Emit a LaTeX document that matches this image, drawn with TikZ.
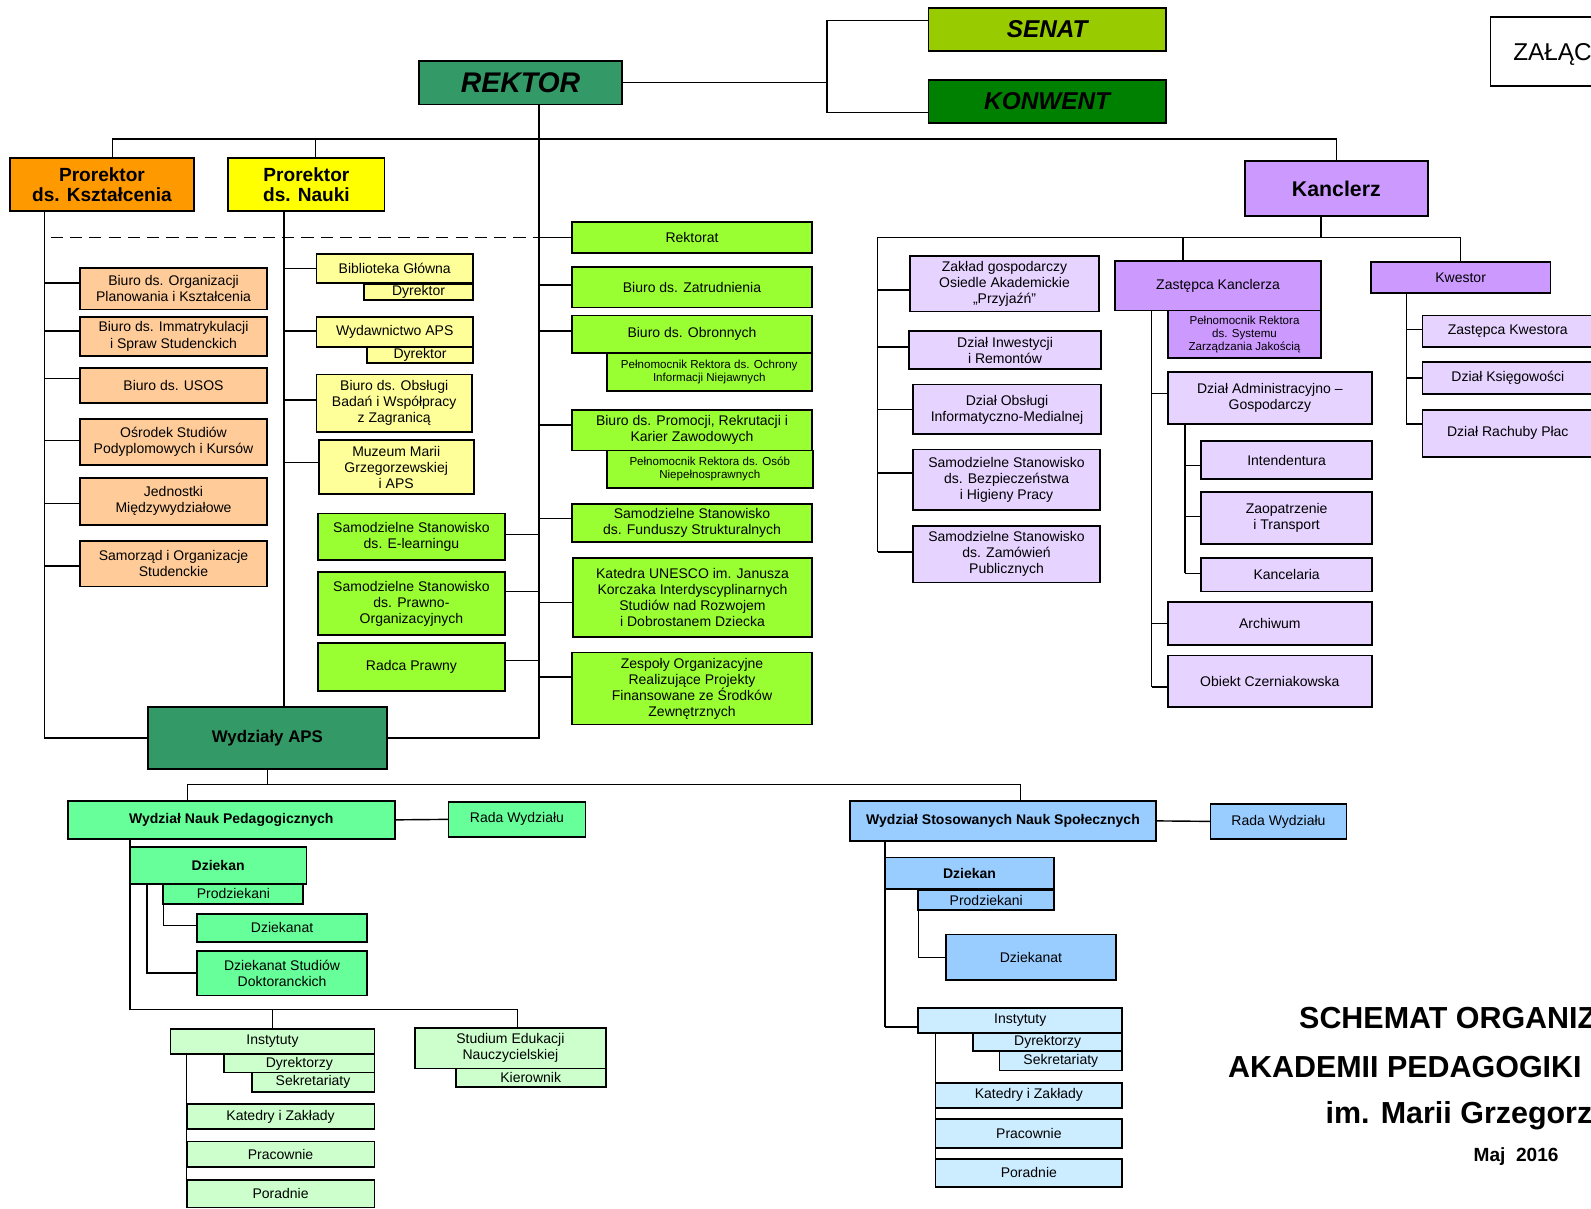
\documentclass[tikz,border=0pt]{standalone}
\usepackage{fontspec}
\setmainfont{Liberation Sans}
\definecolor{cRek}{HTML}{339966}
\definecolor{cSen}{HTML}{99CC00}
\definecolor{cKon}{HTML}{008000}
\definecolor{cOra}{HTML}{FF9900}
\definecolor{cYel}{HTML}{FFFF00}
\definecolor{cPur}{HTML}{CC99FF}
\definecolor{cLav}{HTML}{E6D3FF}
\definecolor{cLOr}{HTML}{FFCC99}
\definecolor{cLYe}{HTML}{FFFF99}
\definecolor{cGre}{HTML}{99FF33}
\definecolor{cMin}{HTML}{66FF99}
\definecolor{cLGr}{HTML}{CCFFCC}
\definecolor{cBlu}{HTML}{99CCFF}
\definecolor{cLBl}{HTML}{CCECFF}
\newcommand\fs{\fontsize{6.9pt}{7.9pt}\selectfont}
\newcommand\fsm{\fontsize{5.7pt}{6.5pt}\selectfont}
\tikzset{
  box/.style={draw=black, line width=0.9pt, inner sep=0pt, outer sep=0pt, align=center, font=\fs},
  conn/.style={draw=black, line width=0.7pt},
  dsh/.style={draw=black, line width=0.8pt, dash pattern=on 6pt off 3.5pt},
  sm/.style={font=\fsm},
  bf/.style={font=\fs\bfseries},
  bigf/.style={font=\fontsize{12pt}{14pt}\selectfont\bfseries\itshape},
  hugef/.style={font=\fontsize{14pt}{16pt}\selectfont\bfseries\itshape},
  prof/.style={font=\fontsize{9.4pt}{10pt}\selectfont\bfseries},
  kanf/.style={font=\fontsize{10.5pt}{12pt}\selectfont\bfseries},
  waf/.style={font=\fontsize{8.3pt}{10pt}\selectfont\bfseries},
  titlef/.style={inner sep=0pt, anchor=base west, font=\fontsize{15pt}{18pt}\selectfont\bfseries},
}
\newcommand\bx[7]{\node[box,#2,minimum width={(#5-#3)*0.5pt},minimum height={(#6-#4)*0.5pt}] (#1) at ({(#3+#5)/2},{(#4+#6)/2}) {#7};}
\newcommand\stub[4]{\path ([yshift=#3]#2) coordinate (#4); \draw[conn] (#4) -- (#1 |- #4);}
\begin{document}
\begin{tikzpicture}[x=0.5pt,y=-0.5pt]
\useasboundingbox (0,0) rectangle (1568,1191);
\clip (0,0) rectangle (1568,1191);

% ---------- top level ----------
\bx{senat}{fill=cSen,bigf}{915}{8}{1149}{50}{SENAT}
\bx{konwent}{fill=cKon,bigf}{915}{79}{1149}{121}{KONWENT}
\bx{rektor}{fill=cRek,hugef}{413}{60}{613}{103}{REKTOR}
\bx{zal}{fill=white}{1469}{17}{1640}{85}{}
\node[inner sep=0pt, anchor=base west, font=\fontsize{12pt}{14pt}\selectfont] (zalt) at (1491,59.5) {ZAŁĄCZNIK};

\bx{pk}{fill=cOra,prof}{10}{156}{191}{208}{Prorektor\\ds. Kształcenia}
\bx{pn}{fill=cYel,prof}{225}{156}{379}{208}{Prorektor\\ds. Nauki}
\bx{kan}{fill=cPur,kanf}{1227}{159}{1407}{213}{Kanclerz}

\coordinate (SK) at (815,0);
\path ([yshift=4.5pt]senat.west) coordinate (sw);
\path ([yshift=-5.5pt]konwent.west) coordinate (kw0);
\draw[conn] (sw) -- (SK |- sw) -- (SK |- kw0) -- (kw0);
\draw[conn] (rektor.east) -- (SK |- rektor.east);

\coordinate (HB) at (0,137);
\path ([xshift=5.25pt]pk.north) coordinate (pkt);
\path ([xshift=4.5pt]pn.north) coordinate (pnt);
\draw[conn] (pkt) -- (pkt |- HB) -- (kan.north |- HB) -- (kan.north);
\draw[conn] (pnt) -- (pnt |- HB);

% ---------- Wydzialy APS and trunks ----------
\bx{wa}{fill=cRek,waf}{146}{697}{381}{758}{Wydziały APS}
\path ([xshift=9pt]rektor.south) coordinate (RT);
\coordinate (LT) at (44,0);
\coordinate (MT) at (280,0);
\draw[conn] (RT) -- (RT |- wa.east) -- (wa.east);
\draw[conn] (LT |- pk.south) -- (LT |- wa.west) -- (wa.west);
\draw[conn] (MT |- pn.south) -- (MT |- wa.north);

% ---------- left (orange) ----------
\bx{o1}{fill=cLOr}{79}{264}{263}{305}{Biuro ds. Organizacji\\Planowania i Kształcenia}
\bx{o2}{fill=cLOr}{79}{312}{263}{351}{Biuro ds. Immatrykulacji\\i Spraw Studenckich}
\bx{o3}{fill=cLOr}{79}{363}{263}{397}{Biuro ds. USOS}
\bx{o4}{fill=cLOr}{79}{413}{263}{458}{Ośrodek Studiów\\Podyplomowych i Kursów}
\bx{o5}{fill=cLOr}{79}{471}{263}{517}{Jednostki\\Międzywydziałowe}
\bx{o6}{fill=cLOr}{79}{533}{263}{578}{Samorząd i Organizacje\\Studenckie}
\stub{LT}{o1.west}{2.75pt}{s-o1}
\stub{LT}{o2.west}{2.75pt}{s-o2}
\stub{LT}{o3.west}{3.5pt}{s-o3}
\stub{LT}{o4.west}{0.75pt}{s-o4}
\stub{LT}{o5.west}{-1pt}{s-o5}
\stub{LT}{o6.west}{-1.25pt}{s-o6}

% ---------- middle (yellow) ----------
\bx{y1}{fill=cLYe}{312}{250}{466}{279}{Biblioteka Główna}
\bx{y1d}{fill=cLYe}{359}{280}{466}{296}{Dyrektor}
\bx{y2}{fill=cLYe}{312}{312}{466}{342}{Wydawnictwo APS}
\bx{y2d}{fill=cLYe}{362}{342}{466}{358}{Dyrektor}
\bx{y3}{fill=cLYe}{312}{369}{465}{426}{Biuro ds. Obsługi\\Badań i Współpracy\\z Zagranicą}
\bx{y4}{fill=cLYe}{314}{434}{467}{487}{Muzeum Marii\\Grzegorzewskiej\\i APS}
\stub{MT}{y1.west}{0pt}{s-y1}
\stub{MT}{y2.west}{0.5pt}{s-y2}
\stub{MT}{y3.west}{1.75pt}{s-y3}
\stub{MT}{y4.west}{2.25pt}{s-y4}

% ---------- green left of rector trunk ----------
\bx{g1}{fill=cGre}{313}{506}{498}{552}{Samodzielne Stanowisko\\ds. E-learningu}
\bx{g2}{fill=cGre}{313}{564}{498}{626}{Samodzielne Stanowisko\\ds. Prawno-\\Organizacyjnych}
\bx{g3}{fill=cGre}{313}{634}{498}{681}{Radca Prawny}
\stub{RT}{g1.east}{1pt}{s-g1}
\stub{RT}{g2.east}{6pt}{s-g2}
\stub{RT}{g3.east}{3.25pt}{s-g3}

% ---------- green right of rector trunk ----------
\bx{r1}{fill=cGre}{564}{219}{800}{249}{Rektorat}
\bx{r2}{fill=cGre}{564}{263}{800}{303}{Biuro ds. Zatrudnienia}
\bx{r3}{fill=cGre}{564}{311}{800}{348}{Biuro ds. Obronnych}
\bx{r3s}{fill=cGre,sm}{598}{348}{800}{385}{Pełnomocnik Rektora ds. Ochrony\\Informacji Niejawnych}
\bx{r4}{fill=cGre}{564}{404}{800}{444}{Biuro ds. Promocji, Rekrutacji i\\Karier Zawodowych}
\bx{r4s}{fill=cGre,sm}{598}{444}{801}{481}{Pełnomocnik Rektora ds. Osób\\Niepełnosprawnych}
\bx{r5}{fill=cGre}{564}{497}{800}{534}{Samodzielne Stanowisko\\ds. Funduszy Strukturalnych}
\bx{r6}{fill=cGre}{565}{550}{800}{628}{Katedra UNESCO im. Janusza\\Korczaka Interdyscyplinarnych\\Studiów nad Rozwojem\\i Dobrostanem Dziecka}
\bx{r7}{fill=cGre}{564}{643}{800}{714}{Zespoły Organizacyjne\\Realizujące Projekty\\Finansowane ze Środków\\Zewnętrznych}
\stub{RT}{r1.west}{0pt}{s-r1}
\stub{RT}{r2.west}{1pt}{s-r2}
\stub{RT}{r3.west}{1.75pt}{s-r3}
\stub{RT}{r4.west}{2.5pt}{s-r4}
\stub{RT}{r5.west}{2.25pt}{s-r5}
\stub{RT}{r6.west}{-2.5pt}{s-r6}
\stub{RT}{r7.west}{5.75pt}{s-r7}
\coordinate (DS) at (50,0);
\draw[dsh] (DS |- s-r1) -- (s-r1 -| RT);

% ---------- Kanclerz ----------
\coordinate (KH) at (0,234);
\coordinate (KL) at (865,0);
\coordinate (ZT) at (1135,0);
\coordinate (ZD) at (1168,0);
\coordinate (QT) at (1386,0);
\bx{l1}{fill=cLav}{897}{252}{1083}{307}{Zakład gospodarczy\\Osiedle Akademickie\\„Przyjaźń”}
\bx{l2}{fill=cLav}{896}{326}{1085}{364}{Dział Inwestycji\\i Remontów}
\bx{l3}{fill=cLav}{900}{379}{1085}{428}{Dział Obsługi\\Informatyczno-Medialnej}
\bx{l4}{fill=cLav}{900}{443}{1084}{503}{Samodzielne Stanowisko\\ds. Bezpieczeństwa\\i Higieny Pracy}
\bx{l5}{fill=cLav}{900}{518}{1084}{574}{Samodzielne Stanowisko\\ds. Zamówień\\Publicznych}
\bx{zk}{fill=cPur}{1099}{257}{1302}{306}{Zastępca Kanclerza}
\bx{zks}{fill=cPur,sm}{1151}{306}{1302}{353}{Pełnomocnik Rektora\\ds. Systemu\\Zarządzania Jakością}
\bx{zd}{fill=cLav}{1151}{367}{1352}{418}{Dział Administracyjno –\\Gospodarczy}
\bx{zi}{fill=cLav}{1184}{435}{1352}{472}{Intendentura}
\bx{zz}{fill=cLav}{1184}{485}{1352}{536}{Zaopatrzenie\\i Transport}
\bx{zc}{fill=cLav}{1184}{550}{1352}{583}{Kancelaria}
\bx{za}{fill=cLav}{1151}{593}{1352}{636}{Archiwum}
\bx{zo}{fill=cLav}{1151}{646}{1352}{697}{Obiekt Czerniakowska}
\bx{kw}{fill=cPur}{1351}{258}{1528}{289}{Kwestor}
\bx{q1}{fill=cLav}{1402}{311}{1570}{342}{Zastępca Kwestora}
\bx{q2}{fill=cLav}{1402}{357}{1570}{388}{Dział Księgowości}
\bx{q3}{fill=cLav}{1402}{404}{1570}{450}{Dział Rachuby Płac}

\path ([xshift=-7.5pt]kan.south) coordinate (kb);
\path ([xshift=-17.25pt]zk.north) coordinate (zkt);
\draw[conn] (kb) -- (kb |- KH);
\draw[conn] (zkt) -- (zkt |- KH);
\stub{KL}{l1.west}{-3.25pt}{s-l1}
\stub{KL}{l2.west}{1.5pt}{s-l2}
\stub{KL}{l3.west}{0pt}{s-l3}
\stub{KL}{l4.west}{3.5pt}{s-l4}
\stub{KL}{l5.west}{1pt}{s-l5}
\draw[conn] (KL |- s-l5) -- (KL |- KH) -- (kw.north |- KH) -- (kw.north);
\stub{ZT}{zd.west}{2.25pt}{s-zd}
\stub{ZT}{za.west}{0pt}{s-za}
\stub{ZT}{zo.west}{-2.75pt}{s-zo}
\draw[conn] (ZT |- zk.south) -- (ZT |- s-zo);
\stub{ZD}{zi.west}{-2.75pt}{s-zi}
\stub{ZD}{zz.west}{0.75pt}{s-zz}
\stub{ZD}{zc.west}{0.75pt}{s-zc}
\draw[conn] (ZD |- zd.south) -- (ZD |- s-zc);
\stub{QT}{q1.west}{0.75pt}{s-q1}
\stub{QT}{q2.west}{0pt}{s-q2}
\stub{QT}{q3.west}{4.5pt}{s-q3}
\draw[conn] (QT |- kw.south) -- (QT |- s-q3);

% ---------- faculties ----------
\coordinate (BB) at (0,773);
\bx{wnp}{fill=cMin,bf}{67}{789}{389}{827}{Wydział Nauk Pedagogicznych}
\bx{wnpr}{fill=cMin}{442}{790}{577}{825}{Rada Wydziału}
\bx{ws}{fill=cBlu,bf}{838}{789}{1139}{829}{Wydział Stosowanych Nauk Społecznych}
\bx{wsr}{fill=cBlu}{1193}{792}{1327}{827}{Rada Wydziału}
\path ([xshift=-21.5pt]wnp.north) coordinate (wnpt);
\path ([xshift=8.75pt]ws.north) coordinate (wst);
\draw[conn] (wa.south) -- (wa.south |- BB);
\draw[conn] (wnpt) -- (wnpt |- BB) -- (wst |- BB) -- (wst);
\draw[conn] (wnp.east) -- (wnpr.west);
\draw[conn] (ws.east) -- (wsr.west);

% WNP
\bx{wnpd}{fill=cMin,bf}{128}{835}{302}{871}{Dziekan}
\bx{wnpp}{fill=cMin}{161}{871}{299}{891}{Prodziekani}
\bx{dk}{fill=cMin}{194}{901}{362}{928}{Dziekanat}
\bx{dsd}{fill=cMin}{194}{937}{362}{981}{Dziekanat Studiów\\Doktoranckich}
\bx{ins}{fill=cLGr}{168}{1014}{369}{1039}{Instytuty}
\bx{insd}{fill=cLGr}{221}{1039}{369}{1057}{Dyrektorzy}
\bx{inss}{fill=cLGr}{248}{1057}{369}{1076}{Sekretariaty}
\bx{kz}{fill=cLGr}{184}{1088}{369}{1113}{Katedry i Zakłady}
\bx{pr}{fill=cLGr}{184}{1125}{369}{1150}{Pracownie}
\bx{po}{fill=cLGr}{184}{1163}{369}{1190}{Poradnie}
\bx{sen}{fill=cLGr}{409}{1013}{597}{1053}{Studium Edukacji\\Nauczycielskiej}
\bx{senk}{fill=cLGr}{449}{1053}{597}{1071}{Kierownik}
\coordinate (A1) at (128,0);
\coordinate (A2) at (145,0);
\coordinate (A4) at (161,0);
\coordinate (A3) at (184,0);
\coordinate (BB2) at (0,995);
\path ([xshift=3.5pt]sen.north) coordinate (sent);
\draw[conn] (A1 |- wnp.south) -- (A1 |- BB2) -- (sent |- BB2) -- (sent);
\draw[conn] (ins.north) -- (ins.north |- BB2);
\draw[conn] (A2 |- wnpd.south) -- (A2 |- dsd.west) -- (dsd.west);
\stub{A4}{dk.west}{1.25pt}{s-dk}
\draw[conn] (A4 |- wnpp.south) -- (A4 |- s-dk);
\draw[conn] (A3 |- ins.south) -- (A3 |- po.west);

% WSNS
\bx{wsd}{fill=cBlu,bf}{872}{845}{1039}{876}{Dziekan}
\bx{wsp}{fill=cBlu}{905}{877}{1039}{897}{Prodziekani}
\bx{dk2}{fill=cBlu}{932}{921}{1100}{966}{Dziekanat}
\bx{ins2}{fill=cLBl}{905}{993}{1106}{1018}{Instytuty}
\bx{ins2d}{fill=cLBl}{959}{1018}{1106}{1036}{Dyrektorzy}
\bx{ins2s}{fill=cLBl}{985}{1036}{1106}{1055}{Sekretariaty}
\bx{kz2}{fill=cLBl}{922}{1067}{1106}{1092}{Katedry i Zakłady}
\bx{pr2}{fill=cLBl}{922}{1103}{1106}{1131}{Pracownie}
\bx{po2}{fill=cLBl}{922}{1142}{1106}{1170}{Poradnie}
\coordinate (B1) at (872,0);
\coordinate (B2) at (905,0);
\coordinate (B3) at (922,0);
\stub{B1}{ins2.west}{-3.25pt}{s-ins2}
\draw[conn] (B1 |- ws.south) -- (B1 |- s-ins2);
\stub{B2}{dk2.west}{0pt}{s-dk2}
\draw[conn] (B2 |- wsp.south) -- (B2 |- s-dk2);
\draw[conn] (B3 |- ins2.south) -- (B3 |- po2.west);

% ---------- title ----------
\node[titlef] (t1) at (1280,1013.5) {SCHEMAT ORGANIZACYJNY};
\node[titlef] (t2) at (1210,1061.5) {AKADEMII PEDAGOGIKI SPECJALNEJ};
\node[titlef] (t3) at (1306,1107.5) {im. Marii Grzegorzewskiej};
\node[inner sep=0pt, anchor=base west, font=\fontsize{9.4pt}{11pt}\selectfont\bfseries] (t4) at (1452,1144.5) {Maj\ \ 2016};
\end{tikzpicture}
\end{document}
